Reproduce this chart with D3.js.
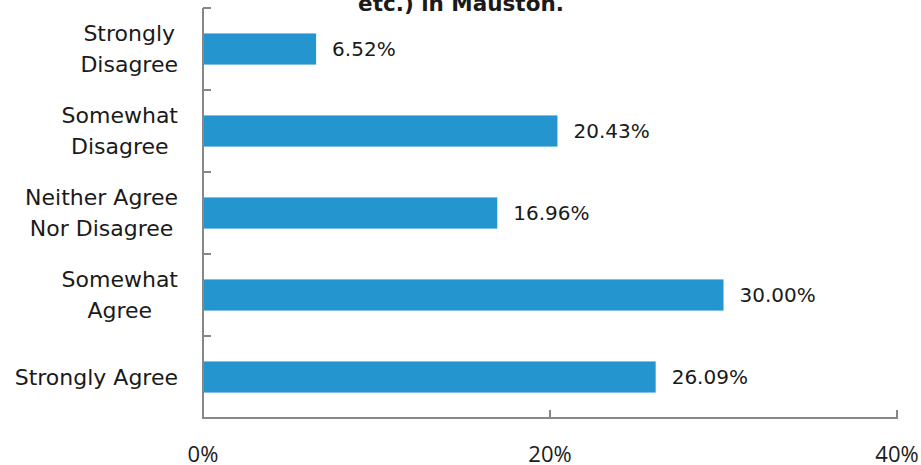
<!DOCTYPE html>
<html>
<head>
<meta charset="utf-8">
<script src="https://cdn.jsdelivr.net/npm/d3@7"></script>
<style>
  html, body { margin: 0; padding: 0; background: #fff; }
  svg { display: block; }
</style>
</head>
<body>
<svg id="chart" width="921" height="465"></svg>
<script>
// Survey responses
const categories = ["Strongly Disagree", "Somewhat Disagree", "Neither Agree Nor Disagree", "Somewhat Agree", "Strongly Agree"];
const labelLines = [["Strongly", "Disagree"], ["Somewhat", "Disagree"], ["Neither Agree", "Nor Disagree"], ["Somewhat", "Agree"], ["Strongly Agree"]];
const values = [6.52, 20.43, 16.96, 30.00, 26.09];
const tickValues = [0, 20, 40];
const tickLabels = ["0%", "20%", "40%"];
const titleLine = "etc.) in Mauston.";

const svg = d3.select("#chart");
const labelFont = "'DejaVu Sans', sans-serif";
const axisColor = "#878787";
const barColor = "#2595D0";
const textColor = "#1a1a1a";

const x = d3.scaleLinear().domain([0, 40]).range([203, 897]);
const y = d3.scaleBand().domain(categories).range([8, 418]).paddingInner(0.62).paddingOuter(0.31);

// Title (last line, partly above the top edge)
svg.append("text")
  .attr("x", 461).attr("y", 11)
  .attr("text-anchor", "middle")
  .attr("font-family", "'DejaVu Sans', sans-serif")
  .attr("font-weight", "bold")
  .attr("font-size", 21.5)
  .attr("fill", textColor)
  .text(titleLine);

// Bars
svg.append("g").selectAll("rect")
  .data(values)
  .join("rect")
  .attr("x", x(0))
  .attr("y", (d, i) => y(categories[i]))
  .attr("width", d => x(d) - x(0))
  .attr("height", y.bandwidth())
  .attr("fill", barColor);

// Value labels
svg.append("g").selectAll("text")
  .data(values)
  .join("text")
  .attr("x", d => x(d) + 16)
  .attr("y", (d, i) => y(categories[i]) + y.bandwidth() / 2)
  .attr("dy", "0.36em")
  .attr("font-family", labelFont)
  .attr("font-size", 20)
  .attr("fill", textColor)
  .text(d => d.toFixed(2) + "%");

// Y axis: line with ticks at category boundaries
const step = y.step();
const yAxis = svg.append("g").attr("stroke", axisColor).attr("stroke-width", 2);
yAxis.append("line").attr("x1", x(0)).attr("x2", x(0)).attr("y1", 8).attr("y2", 419);
yAxis.selectAll("line.tick")
  .data(d3.range(categories.length))
  .join("line")
  .attr("class", "tick")
  .attr("x1", x(0)).attr("x2", x(0) + 8)
  .attr("y1", i => y(categories[i]) - y.paddingOuter() * step)
  .attr("y2", i => y(categories[i]) - y.paddingOuter() * step);

// X axis
const xAxis = svg.append("g").attr("stroke", axisColor).attr("stroke-width", 2);
xAxis.append("line").attr("x1", x(0) - 1).attr("x2", x(40) + 1).attr("y1", 418).attr("y2", 418);
xAxis.selectAll("line.tick")
  .data(tickValues.slice(1))
  .join("line")
  .attr("class", "tick")
  .attr("x1", d => x(d)).attr("x2", d => x(d))
  .attr("y1", 418).attr("y2", 410);

svg.append("g").selectAll("text")
  .data(tickValues)
  .join("text")
  .attr("x", d => x(d))
  .attr("y", 454)
  .attr("dy", "0.35em")
  .attr("text-anchor", "middle")
  .attr("font-family", "'Open Sans', sans-serif")
  .attr("font-size", 22)
  .attr("fill", textColor)
  .text((d, i) => tickLabels[i]);

// Category labels: each block centred on itself, right edge at x = 178
const lineGap = 31;
const catG = svg.append("g");
labelLines.forEach((lines, i) => {
  const cy = y(categories[i]) + y.bandwidth() / 2;
  const g = catG.append("g");
  const texts = lines.map((ln, j) => g.append("text")
    .attr("y", cy + (j - (lines.length - 1) / 2) * lineGap)
    .attr("dy", "0.36em")
    .attr("text-anchor", "middle")
    .attr("font-family", labelFont)
    .attr("font-size", 22)
    .attr("fill", textColor)
    .text(ln));
  const maxW = d3.max(texts, t => t.node().getComputedTextLength());
  texts.forEach(t => t.attr("x", 178 - maxW / 2));
});
</script>
</body>
</html>
